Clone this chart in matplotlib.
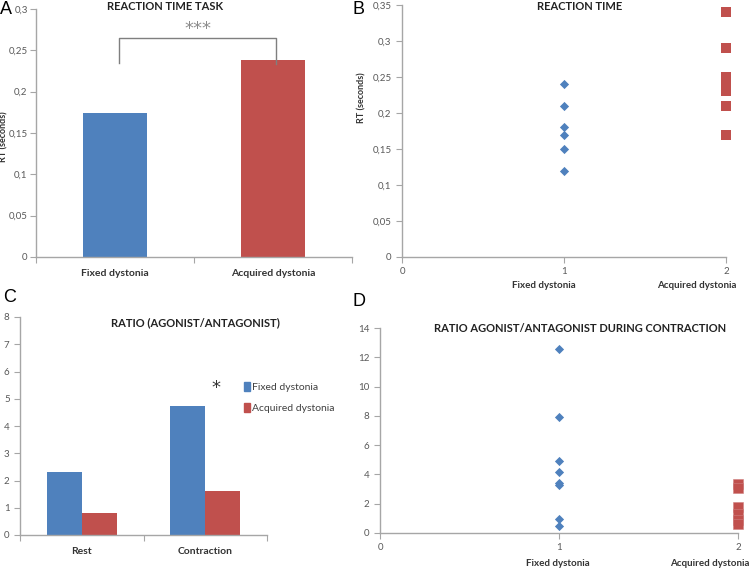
import matplotlib
matplotlib.use("Agg")
import matplotlib.pyplot as plt
from matplotlib.ticker import FuncFormatter, FixedLocator
from matplotlib.patches import Patch

# ---- data ----
groups = ["Fixed dystonia", "Acquired dystonia"]
rt_means = [0.174, 0.238]

rt_fixed = [0.24, 0.21, 0.18, 0.17, 0.15, 0.12]
rt_acquired = [0.34, 0.29, 0.25, 0.24, 0.23, 0.21, 0.17]

ratio_conditions = ["Rest", "Contraction"]
ratio_fixed = [2.31, 4.75]
ratio_acquired = [0.82, 1.62]

contr_fixed = [12.6, 7.9, 4.9, 4.2, 3.4, 3.25, 0.95, 0.5]
contr_acquired = [3.35, 3.05, 1.8, 1.3, 0.9, 0.6]

BLUE = "#4F81BD"
RED = "#C0504D"
AXC = "#A6A6A6"
TXT = "#595959"

plt.rcParams['font.family'] = ['Lato', 'DejaVu Sans']

W, H = 749, 569
fig = plt.figure(figsize=(W / 100, H / 100), dpi=100)


def rect(l, r, top, bot):
    return [l / W, 1 - bot / H, (r - l) / W, (bot - top) / H]


def comma(x, pos):
    s = ("%g" % x).replace(".", ",")
    return s


def style(ax):
    for s in ["top", "right"]:
        ax.spines[s].set_visible(False)
    for s in ["left", "bottom"]:
        ax.spines[s].set_color(AXC)
        ax.spines[s].set_linewidth(1.0)
    ax.tick_params(axis="both", which="both", colors=AXC, labelcolor=TXT,
                   labelsize=7, length=4, width=0.8, direction="out")


def ftext(x, y, s, **kw):
    fig.text(x / W, 1 - y / H, s, **kw)


# ---- Panel A ----
axA = fig.add_axes(rect(36, 352, 9, 257))
style(axA)
axA.bar([0, 1], rt_means, width=0.405, color=[BLUE, RED])
axA.set_xlim(-0.5, 1.5)
axA.set_ylim(0, 0.3)
axA.set_yticks([0, 0.05, 0.1, 0.15, 0.2, 0.25, 0.3])
axA.yaxis.set_major_formatter(FuncFormatter(comma))
axA.tick_params(axis="y", pad=2)
axA.set_xticks([0, 1])
axA.set_xticklabels(groups, fontsize=7.5, fontweight="bold", color="#333333")
axA.tick_params(axis="x", which="major", length=0, pad=9)
axA.xaxis.set_minor_locator(FixedLocator([-0.5, 0.5, 1.5]))
axA.tick_params(axis="x", which="minor", length=4)
# significance bracket
bx0, bx1 = 0.025, 1.02
axA.plot([bx0, bx0, bx1, bx1], [0.235, 0.265, 0.265, 0.234],
         color="#7F7F7F", lw=1.0, solid_joinstyle="round")
axA.text((bx0 + bx1) / 2, 0.2655, "***", ha="center", va="bottom",
         fontsize=13, color="#8C8C8C", family=["DejaVu Sans"])
ftext(165, 7, "REACTION TIME TASK", ha="center", va="center",
      fontsize=8, fontweight="bold", color="#222222")
ftext(3.5, 137, "RT (seconds)", ha="center", va="center", rotation=90,
      fontsize=6.5, fontweight="bold", color="#333333")
ftext(0, 10, "A", ha="left", va="center", fontsize=13,
      family=["Liberation Sans"])

# ---- Panel B ----
axB = fig.add_axes(rect(402, 726, 5, 257))
style(axB)
axB.scatter([1] * len(rt_fixed), rt_fixed, marker="D", s=22, color=BLUE,
            clip_on=False, zorder=3, linewidths=0)
axB.scatter([2] * len(rt_acquired), rt_acquired, marker="s", s=42, color=RED,
            clip_on=False, zorder=3, linewidths=0)
axB.set_xlim(0, 2)
axB.set_ylim(0, 0.35)
axB.set_xticks([0, 1, 2])
axB.set_yticks([0, 0.05, 0.1, 0.15, 0.2, 0.25, 0.3, 0.35])
axB.yaxis.set_major_formatter(FuncFormatter(comma))
ftext(580, 7, "REACTION TIME", ha="center", va="center",
      fontsize=8, fontweight="bold", color="#222222")
ftext(362, 98, "RT (seconds)", ha="center", va="center", rotation=90,
      fontsize=6.5, fontweight="bold", color="#333333")
ftext(352, 9, "B", ha="left", va="center", fontsize=13,
      family=["Liberation Sans"])
ftext(544, 285, groups[0], ha="center", va="center", fontsize=7,
      fontweight="bold", color="#333333")
ftext(697, 285, groups[1], ha="center", va="center", fontsize=7,
      fontweight="bold", color="#333333")

# ---- Panel C ----
axC = fig.add_axes(rect(20, 267, 317, 535))
style(axC)
bw = 0.283
xc = [0, 1]
bF = axC.bar([x - bw / 2 for x in xc], ratio_fixed, width=bw, color=BLUE,
             label="Fixed dystonia")
bA = axC.bar([x + bw / 2 for x in xc], ratio_acquired, width=bw, color=RED,
             label="Acquired dystonia")
axC.set_xlim(-0.5, 1.5)
axC.set_ylim(0, 8)
axC.set_yticks(range(0, 9))
axC.set_xticks(xc)
axC.set_xticklabels(ratio_conditions, fontsize=7.5, fontweight="bold",
                    color="#333333")
axC.tick_params(axis="x", which="major", length=0, pad=9)
axC.xaxis.set_minor_locator(FixedLocator([-0.5, 0.5, 1.5]))
axC.tick_params(axis="x", which="minor", length=4)
ftext(195, 323, "RATIO (AGONIST/ANTAGONIST)", ha="center", va="center",
      fontsize=8, fontweight="bold", color="#222222")
ftext(216, 388, "*", ha="center", va="center", fontsize=13, color="#333333",
      family=["DejaVu Sans"])
ftext(3, 298, "C", ha="left", va="center", fontsize=13,
      family=["Liberation Sans"])
leg = fig.legend(handles=[Patch(color=BLUE), Patch(color=RED)],
                 labels=["Fixed dystonia", "Acquired dystonia"],
                 loc="upper left", bbox_to_anchor=(244 / W, 1 - 382 / H),
                 frameon=False, fontsize=7.5, handlelength=0.6,
                 handleheight=0.9, handletextpad=0.2, labelspacing=1.1,
                 borderaxespad=0, borderpad=0)
for t in leg.get_texts():
    t.set_color("#404040")

# ---- Panel D ----
axD = fig.add_axes(rect(380, 738, 328, 533))
style(axD)
axD.scatter([1] * len(contr_fixed), contr_fixed, marker="D", s=22, color=BLUE,
            clip_on=False, zorder=3, linewidths=0)
axD.scatter([2] * len(contr_acquired), contr_acquired, marker="s", s=48,
            color=RED, clip_on=False, zorder=3, linewidths=0.4,
            edgecolors="#D08080")
axD.set_xlim(0, 2)
axD.set_ylim(0, 14)
axD.set_xticks([0, 1, 2])
axD.set_yticks(range(0, 15, 2))
ftext(580, 328, "RATIO AGONIST/ANTAGONIST DURING CONTRACTION", ha="center",
      va="center", fontsize=8, fontweight="bold", color="#222222")
ftext(352, 301, "D", ha="left", va="center", fontsize=13,
      family=["Liberation Sans"])
ftext(558, 563, groups[0], ha="center", va="center", fontsize=7,
      fontweight="bold", color="#333333")
ftext(710, 563, groups[1], ha="center", va="center", fontsize=7,
      fontweight="bold", color="#333333")

fig.savefig("out.png", dpi=100, facecolor="white")
